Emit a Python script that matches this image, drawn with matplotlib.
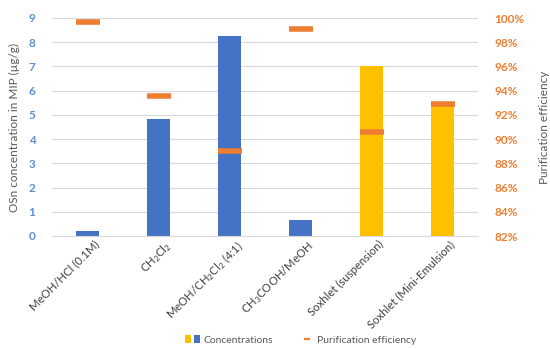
import matplotlib
matplotlib.use("Agg")
import matplotlib.pyplot as plt
from matplotlib.patches import Patch
from matplotlib.lines import Line2D
from matplotlib.legend_handler import HandlerTuple
from matplotlib.transforms import ScaledTranslation
import numpy as np

plt.rcParams['font.family'] = ['Lato', 'DejaVu Sans']
plt.rcParams['mathtext.fontset'] = 'custom'
plt.rcParams['mathtext.rm'] = 'Lato'

categories = ["MeOH/HCl (0.1M)", "CH$_2$Cl$_2$", "MeOH/CH$_2$Cl$_2$ (4:1)",
              "CH$_3$COOH/MeOH", "Soxhlet (suspension)", "Soxhlet (Mini-Emulsion)"]
concentrations = [0.2, 4.82, 8.27, 0.68, 7.03, 5.4]
efficiency = [99.7, 93.6, 89.0, 99.1, 90.6, 92.9]
bar_colors = ["#4472C4", "#4472C4", "#4472C4", "#4472C4", "#FFC000", "#FFC000"]

fig = plt.figure(figsize=(5.5, 3.49), dpi=100)
ax = fig.add_axes([52/550, 1-236/349, 426/550, 218/349])
ax2 = ax.twinx()

x = np.arange(len(categories))
ax.bar(x, concentrations, width=0.31, color=bar_colors, zorder=2)
ax.set_xlim(-0.5, len(categories) - 0.5)
ax.set_ylim(0, 9)
ax.set_yticks(range(0, 10))
ax.grid(axis='y', color='#D9D9D9', linewidth=0.8, zorder=0)
ax.set_axisbelow(True)
for s in ['top', 'right', 'left']:
    ax.spines[s].set_visible(False)
    ax2.spines[s].set_visible(False)
ax.spines['bottom'].set_color('#D9D9D9')
ax2.spines['bottom'].set_visible(False)
ax.tick_params(axis='y', length=0, labelcolor='#5B8FD0', labelsize=8.5, pad=12)
ax.tick_params(axis='x', length=0, labelsize=8.2, labelcolor='#404040', pad=2)
for lbl in ax.get_yticklabels():
    lbl.set_fontweight('bold')
ax.set_xticks(x)
ax.set_xticklabels(categories, rotation=45, ha='right', rotation_mode='anchor')
offset = ScaledTranslation(6/100, 0, fig.dpi_scale_trans)
for lbl in ax.get_xticklabels():
    lbl.set_transform(lbl.get_transform() + offset)
ax.set_ylabel("OSn concentration in MIP (µg/g)", color='#595959', fontsize=8.5, labelpad=6)

ax2.set_ylim(82, 100)
ax2.set_yticks(range(82, 101, 2))
ax2.set_yticklabels([f"{v}%" for v in range(82, 101, 2)])
ax2.tick_params(axis='y', length=0, labelcolor='#ED7D31', labelsize=8.5, pad=12)
for lbl in ax2.get_yticklabels():
    lbl.set_fontweight('bold')
ax2.set_ylabel("Purification efficiency", color='#595959', fontsize=8.5, labelpad=10)
ax2.scatter(x, efficiency, marker='_', s=23**2 * 0.55, linewidths=4.0, color='#ED7D31', zorder=3)

h1 = (Patch(facecolor='#FFC000'), Patch(facecolor='#4472C4'))
h2 = Line2D([], [], linestyle='none', marker='_', markersize=5, markeredgewidth=1.6, color='#ED7D31')
fig.legend([h1, h2], ["Concentrations", "Purification efficiency"],
           handler_map={tuple: HandlerTuple(ndivide=None, pad=0.25)},
           loc='center', bbox_to_anchor=(301/550, 1 - 340/349), ncol=2, frameon=False,
           fontsize=7.5, handlelength=1.4, handleheight=0.7, columnspacing=2.6,
           labelcolor='#595959', handletextpad=0.3)

fig.savefig("out.png", dpi=100)
